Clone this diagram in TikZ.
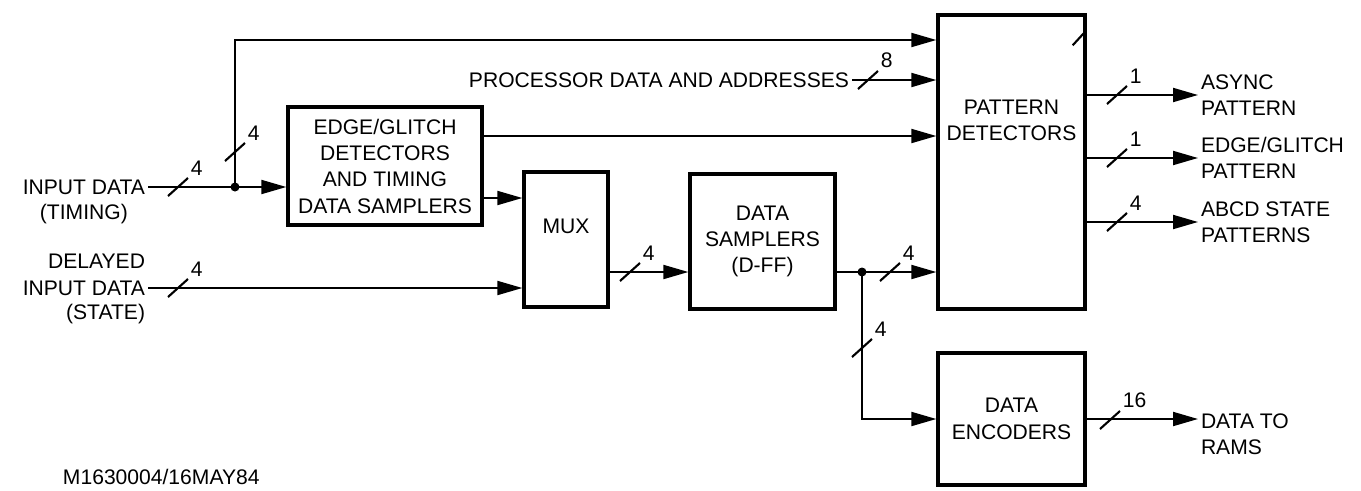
\documentclass[tikz,border=0pt]{standalone}
\usepackage{fontspec}
\setmainfont{Liberation Sans}
\usetikzlibrary{positioning,arrows.meta}

\begin{document}
\begin{tikzpicture}[
  font=\fontsize{12}{15}\selectfont,
  blk/.style={rectangle, draw, line width=1.9pt, inner sep=0pt, align=center},
  sig/.style={line width=1.1pt, -{Triangle[length=0.50cm,width=0.28cm]}},
  bus/.style={line width=1.2pt},
  buslbl/.style={anchor=south west, inner sep=1pt},
  lbl/.style={inner sep=1.5pt, align=left},
  txt/.style={align=center, inner sep=0pt}
]
\useasboundingbox (0,0) rectangle (27.22,9.80);

% blocks
\node[blk, minimum width=3.88cm, minimum height=2.36cm] (edge) at (7.70,6.48)
  {EDGE/GLITCH\\DETECTORS\\AND TIMING\\DATA SAMPLERS};
\node[blk, minimum width=1.68cm, minimum height=2.70cm] (mux) at (11.32,5.01) {};
\node[txt] at ([yshift=0.27cm]mux.center) {MUX};
\node[blk, minimum width=2.90cm, minimum height=2.70cm] (samp) at (15.25,4.97)
  {DATA\\SAMPLERS\\(D-FF)};
\node[blk, minimum width=2.94cm, minimum height=5.88cm] (pd) at (20.23,6.56) {};
\node[txt] at ([yshift=-2.14cm]pd.north) {PATTERN\\DETECTORS};
\node[blk, minimum width=2.94cm, minimum height=2.64cm] (enc) at (20.23,1.42)
  {DATA\\ENCODERS};

% inputs
\node[lbl, anchor=east] (inT) at (2.96,6.06) {INPUT DATA};
\node[lbl] at ([yshift=-0.54cm]inT.center) {(TIMING)};
\node[lbl, anchor=east] (dlT) at (2.96,4.04) {INPUT DATA};
\node[lbl, anchor=east] at ([yshift=0.54cm]dlT.east) {DELAYED};
\node[lbl, anchor=east] at ([yshift=-0.52cm]dlT.east) {(STATE)};
\node[lbl, anchor=east] (proc) at (17.04,8.20) {PROCESSOR DATA AND ADDRESSES};

% outputs
\node[lbl, anchor=west] (o1) at (23.96,7.90) {ASYNC\\PATTERN};
\node[lbl, anchor=west] (o2) at (23.96,6.64) {EDGE/GLITCH\\PATTERN};
\node[lbl, anchor=west] (o3) at (23.96,5.36) {ABCD STATE\\PATTERNS};
\node[lbl, anchor=west] (ram) at (23.96,1.12) {DATA TO\\RAMS};

\node[lbl, anchor=west] (tag) at (1.20,0.26) {M1630004/16MAY84};

% junctions
\coordinate (j1) at (4.70,6.06);
\coordinate (top) at (4.70,9.00);
\coordinate (j2) at (17.24,4.36);

% connectors
\draw[sig] (inT.east) -- (inT.east -| edge.west);
\draw[sig] (j1) -- (top) -- (top -| pd.west);
\draw[sig] (proc.east) -- (proc.east -| pd.west);
\draw[sig] ([yshift=0.60cm]edge.east) -- ([yshift=0.60cm]edge.east -| pd.west);
\draw[sig] ([yshift=-0.64cm]edge.east) -- ([yshift=-0.64cm]edge.east -| mux.west);
\draw[sig] (dlT.east) -- (dlT.east -| mux.west);
\draw[sig] ([yshift=-0.65cm]mux.east) -- ([yshift=-0.65cm]mux.east -| samp.west);
\draw[sig] (samp.east |- j2) -- (j2 -| pd.west);
\draw[sig] (j2) |- (enc.west);
\draw[sig] (pd.east |- o1.west) -- (o1.west);
\draw[sig] (pd.east |- o2.west) -- (o2.west);
\draw[sig] (pd.east |- o3.west) -- (o3.west);
\draw[sig] (enc.east) -- (enc.east -| ram.west);
\fill (j1) circle (0.09);
\fill (j2) circle (0.09);

% bus widths
\coordinate (bIn) at (3.56,6.06);
\coordinate (bUp) at (4.70,6.76);
\coordinate (bDl) at (3.56,4.04);
\coordinate (bPr) at (17.36,8.20);
\coordinate (bMx) at (12.60,4.36);
\coordinate (bSp) at (17.80,4.36);
\coordinate (bDn) at (17.24,2.84);
\coordinate (bO1) at (22.34,7.90);
\coordinate (bO2) at (22.34,6.64);
\coordinate (bO3) at (22.34,5.36);
\coordinate (bEn) at (22.20,1.40);
\foreach \c/\n in {bIn/4, bUp/4, bDl/4, bPr/8, bMx/4, bSp/4, bDn/4,
                   bO1/1, bO2/1, bO3/4, bEn/16}
  \draw[bus] ([shift={(-0.2,-0.18)}]\c) -- ([shift={(0.2,0.18)}]\c) node[buslbl] {\n};
\draw[bus] ([shift={(-0.28,-0.64)}]pd.north east) -- ([shift={(-0.06,-0.40)}]pd.north east);
\end{tikzpicture}
\end{document}
